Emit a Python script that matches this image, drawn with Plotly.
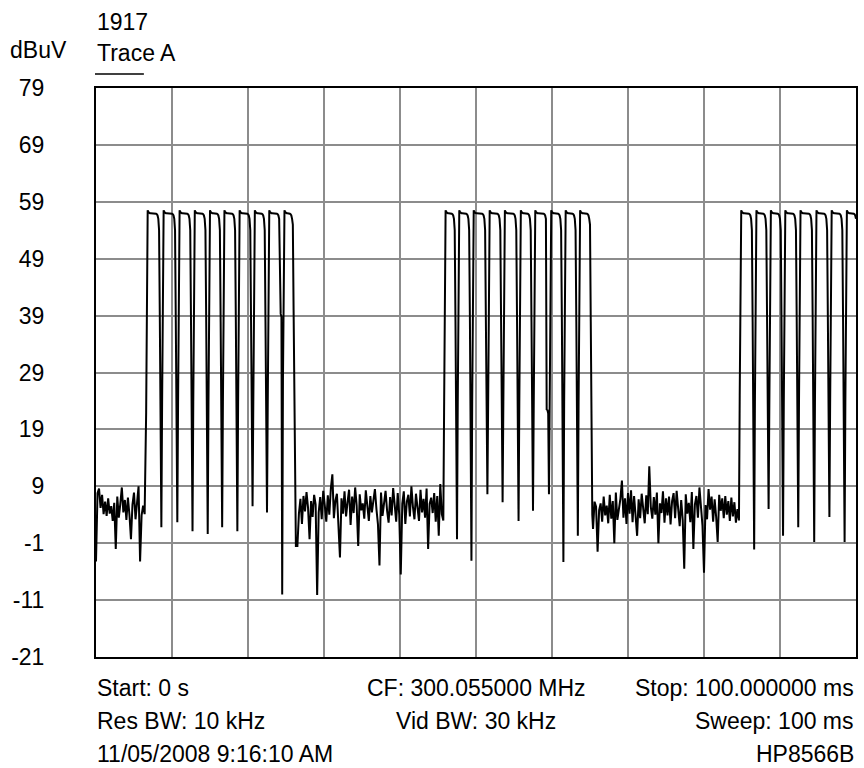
import numpy as np
import plotly.graph_objects as go

# ---------------- data (dBuV) ----------------
# noise stretches sampled every 0.2 ms, pulse bursts every 0.1 ms
noise_a = [
    -4.2, 7.8, 8.6, 5.2, 7.5, 4.1, 6.3, 3.8, 6.9, 4.2, 5.5, 2.9, 6.1, -2.0, 7.2, 3.5,
    5.9, 8.8, 4.4, 6.6, 3.1, 7.0, 4.0, -0.3, 5.8, 7.9, 3.2, 6.4, 9.0, -4.2, 3.9, 5.6,
    4.1,
]

burst_1 = [
    22, 47,
    57.5, 57.2, 57, 57, 57, 57, 57, 57, 57, 57, 57, 56.9, 56.8, 56.6, 56.0,
    54, 38, 18, 1.8, 24, 48, 57.5,
    57.2, 57, 57, 57, 57, 57, 57, 57, 57, 57, 56.9, 56.8, 56.6, 56.0,
    54, 38, 18, 2.7, 24, 48, 57.5,
    57.2, 57, 57, 57, 57, 57, 57, 57, 57, 56.9, 56.8, 56.6, 56.0,
    54, 38, 18, 1.1, 24, 48, 57.5,
    57.2, 57, 57, 57, 57, 57, 57, 57, 57, 56.9, 56.8, 56.6, 56.0,
    54, 38, 18, 0.6, 24, 48, 57.5,
    57.2, 57, 57, 57, 57, 57, 57, 57, 56.9, 56.8, 56.6, 56.0,
    54, 38, 18, 1.8, 24, 48, 57.5,
    57.2, 57, 57, 57, 57, 57, 57, 57, 57, 56.9, 56.8, 56.6, 56.0,
    54, 38, 18, 1.1, 24, 48, 57.5,
    57.2, 57, 57, 57, 57, 57, 57, 57, 57, 56.9, 56.8, 56.6, 56.0,
    54, 38, 18, 5.5, 24, 48, 57.5,
    57.2, 57, 57, 57, 57, 57, 57, 57, 56.9, 56.8, 56.6, 56.0,
    54, 38, 18, 4.4, 24, 48, 57.5,
    57.2, 57, 57, 57, 57, 57, 57, 57, 57, 56.9, 56.8, 56.6, 56.0,
    39.6, 39.3, 38.8, -10.0, 28, 52, 57.5,
    57.2, 57, 57, 57, 57, 57, 56.9, 56.8, 56.6, 56.0,
    55, 40, 20, 3,
]

noise_b = [
    -1.5, -1.5, 4.2, 6.8, 2.4, 7.3, 4.6, 8.0, 5.2, -0.3,
    6.4, 3.6, 7.5, 5.8, -10.1, 4.4, 7.1, 3.2, 8.2, 5.7,
    2.8, 7.4, 4.0, 8.6, 11.1, 3.4, 6.5, 7.7, 2.5, -3.5,
    6.9, 4.2, 8.1, 3.7, 6.2, 8.4, 2.2, 7.2, 4.3, 8.8,
    5.6, -1.5, 7.6, 4.8, 6.0, 3.3, 8.3, 5.5, 2.9, 7.3,
    4.4, 6.5, 8.5, 5.0, 2.3, -4.9, 7.9, 3.8, 6.6, 8.2,
    4.7, 2.6, 7.1, 3.9, 8.7, 5.6, 2.8, 7.8, 4.0, -6.5,
    5.9, 8.1, 2.4, 6.3, 7.5, 3.7, 9.0, 5.4, 3.2, 7.7,
    5.1, 2.9, 8.4, 4.4, 6.8, 3.5, 8.6, -2.0, 5.9, 7.0,
    4.3, 7.8, 2.8, 7.3, 0.3, 9.4, 4.1, 3.0,
]

burst_2 = [
    22, 48,
    57.5, 57.2, 57, 57, 57, 57, 57, 57, 56.9, 56.8, 56.6, 56.0,
    54, 38, 18, -0.3, 24, 48, 57.5,
    57.2, 57, 57, 57, 57, 57, 57, 57, 56.9, 56.8, 56.6, 56.0,
    54, 38, 18, -4.1, 24, 48, 57.5,
    57.2, 57, 57, 57, 57, 57, 57, 57, 57, 57, 56.9, 56.8, 56.6, 56.0,
    54, 38, 18, 7.6, 24, 48, 57.5,
    57.2, 57, 57, 57, 57, 57, 57, 57, 57, 56.9, 56.8, 56.6, 56.0,
    54, 38, 18, 6.2, 24, 48, 57.5,
    57.2, 57, 57, 57, 57, 57, 57, 57, 57, 57, 56.9, 56.8, 56.6, 56.0,
    54, 38, 18, 2.9, 24, 48, 57.5,
    57.2, 57, 57, 57, 57, 57, 57, 57, 56.9, 56.8, 56.6, 56.0,
    54, 38, 18, 4.7, 24, 48, 57.5,
    57.2, 57, 57, 57, 57, 57, 57, 57, 57, 57, 56.9, 56.8, 56.6, 56.0,
    22.5, 22.4, 21.8, 7.6, 30, 50, 57.5,
    57.2, 57, 57, 57, 57, 57, 57, 57, 56.9, 56.8, 56.6, 56.0,
    54, 38, 18, -4.3, 24, 48, 57.5,
    57.2, 57, 57, 57, 57, 57, 57, 57, 56.9, 56.8, 56.6, 56.0,
    54, 38, 18, 0.3, 24, 48, 57.5,
    57.2, 57, 57, 57, 57, 57, 57, 57, 56.9, 56.8, 56.6, 56.0,
    55, 38, 18, 4,
]

noise_c = [
    1.5, 6.3, 5.4, -2.5, 4.8, 6.0, 2.8, 7.2, 3.9, 5.6,
    2.5, 7.5, 3.3, 6.4, -1.0, 7.9, 3.1, 5.2, 6.8, 10.0,
    3.5, 6.9, 2.4, 7.8, 4.2, 8.3, 2.7, 7.3, 4.4, 0.3,
    6.7, 3.4, 7.7, 5.2, 2.5, 7.4, 4.1, 12.5, 5.4, 3.3,
    7.1, 4.0, 7.9, -1.0, 6.0, 4.3, 8.1, 2.6, 6.9, 3.9,
    7.2, 2.3, 6.4, 7.8, 3.4, 8.2, 4.5, 2.0, 6.6, 3.1,
    -5.5, 7.6, 4.2, 6.1, 2.7, 8.0, -2.0, 5.8, 7.3, 3.5,
    8.8, 4.4, 2.1, -6.2, 5.7, 3.2, 8.5, 4.9, 7.2, 2.8,
    6.7, 3.6, -0.8, 7.5, 4.7, 6.9, 3.4, 7.3, 4.0, 6.4,
    2.9, 7.0, 3.7, 6.2, 2.6, 5.0, 3.0,
]

burst_3 = [
    25, 50,
    57.5, 57.2, 57, 57, 57, 57, 57, 57, 57, 57, 56.9, 56.8, 56.6, 56.0,
    54, 38, 18, -2.1, 24, 48, 57.5,
    57.2, 57, 57, 57, 57, 57, 57, 57, 56.9, 56.8, 56.6, 56.0,
    54, 38, 18, 5.0, 24, 48, 57.5,
    57.2, 57, 57, 57, 57, 57, 57, 57, 56.9, 56.8, 56.6, 56.0,
    54, 38, 18, 0.3, 24, 48, 57.5,
    57.2, 57, 57, 57, 57, 57, 57, 57, 57, 56.9, 56.8, 56.6, 56.0,
    54, 38, 18, 1.8, 24, 48, 57.5,
    57.2, 57, 57, 57, 57, 57, 57, 57, 57, 57, 56.9, 56.8, 56.6, 56.0,
    54, 38, 18, -0.8, 24, 48, 57.5,
    57.2, 57, 57, 57, 57, 57, 57, 57, 57, 56.9, 56.8, 56.6, 56.0,
    54, 38, 18, 3.6, 24, 48, 57.5,
    57.2, 57, 57, 57, 57, 57, 57, 57, 57, 56.9, 56.8, 56.6, 56.0,
    54, 38, 18, -0.8, 24, 48, 57.5,
    57.2, 57, 57, 57, 57, 57, 57, 57, 56.9, 56.8, 56.6, 56.0,
]

# time span (ms) covered by each stretch of samples
segment_ms = [(0.0, 6.4), (6.6, 26.2), (26.3, 45.7), (45.8, 65.3), (65.4, 84.6), (84.7, 100.0)]
segments = [noise_a, burst_1, noise_b, burst_2, noise_c, burst_3]

level_dbuv = [v for seg in segments for v in seg]
sweep_ms = np.concatenate([np.linspace(a, b, len(seg)) for (a, b), seg in zip(segment_ms, segments)])

start_ms, stop_ms = 0.0, 100.0
y_ticks = [-21, -11, -1, 9, 19, 29, 39, 49, 59, 69, 79]
y_labels = [str(v) for v in y_ticks]
x_ticks = [0, 10, 20, 30, 40, 50, 60, 70, 80, 90, 100]

header_lines = ["1917", "Trace A"]
unit_label = "dBuV"
footer_left = ["Start: 0 s", "Res BW: 10 kHz", "11/05/2008 9:16:10 AM"]
footer_mid = ["CF: 300.055000 MHz", "Vid BW: 30 kHz", ""]
footer_right = ["Stop: 100.000000 ms", "Sweep: 100 ms", "HP8566B"]

# ---------------- layout ----------------
W, H = 864, 768
L, R, T, B = 96, 6, 88, 111
PW, PH = W - L - R, H - T - B
FONT = "Liberation Sans, Arial, Helvetica, sans-serif"
FS = 23


def fx(p):
    return (p - L) / PW


def fy(p):
    return (H - B - p) / PH


fig = go.Figure(
    go.Scatter(
        x=sweep_ms, y=level_dbuv, mode="lines",
        line=dict(color="black", width=2), hoverinfo="skip",
    )
)

annots = []


def add_text(text, x, y, anchor):
    if not text:
        return
    annots.append(dict(
        text=text, x=x, y=y, xref="paper", yref="paper",
        xanchor=anchor, yanchor="middle", showarrow=False,
        font=dict(family=FONT, size=FS, color="black"),
    ))


add_text(unit_label, fx(8), fy(50), "left")
add_text(header_lines[0], fx(95), fy(22), "left")
add_text(header_lines[1], fx(95), fy(53), "left")
rows_y = [688, 721, 754]
for i, yy in enumerate(rows_y):
    add_text(footer_left[i], fx(95), fy(yy), "left")
    add_text(footer_mid[i], 0.5, fy(yy), "center")
    add_text(footer_right[i], 1.0, fy(yy), "right")

fig.update_layout(
    width=W, height=H,
    margin=dict(l=L, r=R, t=T, b=B, pad=0),
    paper_bgcolor="white", plot_bgcolor="white",
    showlegend=False,
    font=dict(family=FONT, size=FS, color="black"),
    annotations=annots,
    shapes=[dict(type="line", xref="paper", yref="paper",
                 x0=fx(95), x1=fx(144), y0=fy(74), y1=fy(74),
                 line=dict(color="black", width=1.5))],
    xaxis=dict(
        range=[start_ms, stop_ms], tickvals=x_ticks, showticklabels=False,
        showgrid=True, gridcolor="#8c8c8c", gridwidth=1.5,
        showline=True, mirror=True, linecolor="black", linewidth=2,
        zeroline=False, ticks="",
    ),
    yaxis=dict(
        range=[-21, 79], tickvals=y_ticks, ticktext=y_labels,
        showgrid=True, gridcolor="#8c8c8c", gridwidth=1.5,
        showline=True, mirror=True, linecolor="black", linewidth=2,
        zeroline=False, ticks="", ticklabelstandoff=45,
        tickfont=dict(family=FONT, size=FS, color="black"),
    ),
)

fig.write_html(
    "out.html",
    config={"displayModeBar": False},
    post_script="document.body.style.margin='0';document.body.style.padding='0';document.body.style.overflow='hidden';",
)
